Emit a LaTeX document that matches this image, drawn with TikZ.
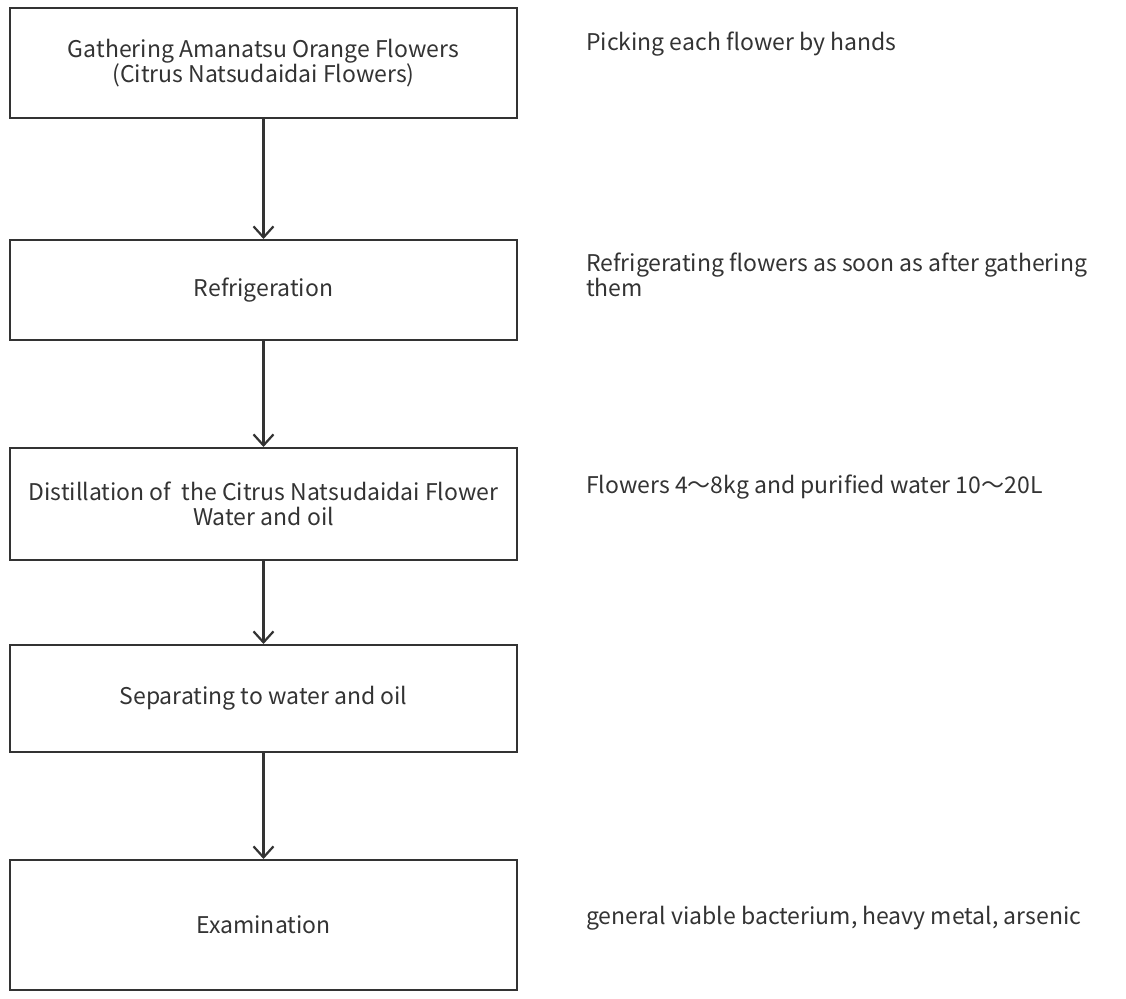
\documentclass[tikz,border=0pt]{standalone}
\usepackage{fontspec}
\setmainfont{Noto Sans CJK JP}
\usetikzlibrary{arrows.meta}
\definecolor{ink}{HTML}{333333}

\begin{document}
\begin{tikzpicture}[x=1pt,y=-1pt,
    stepbox/.style={draw=ink,line width=2pt,minimum width=507pt,text=ink,align=center,font=\fontsize{23}{25}\selectfont},
    note/.style={anchor=west,text=ink,align=left,font=\fontsize{23}{25}\selectfont,inner sep=0pt},
    flow/.style={draw=ink,line width=2.2pt,-{Straight Barb[length=11pt,width=20pt,line width=2.2pt]}}]
  \useasboundingbox (0,0) rectangle (1126,998);
  % process steps
  \node[stepbox,minimum height=110pt] (gather) at (263.5,63) {Gathering Amanatsu Orange Flowers\\(Citrus Natsudaidai Flowers)};
  \node[stepbox,minimum height=100pt] (refrig) at (263.5,290) {Refrigeration};
  \node[stepbox,minimum height=112pt] (distill) at (263.5,504) {Distillation of \ the Citrus Natsudaidai Flower\\Water and oil};
  \node[stepbox,minimum height=107pt] (separate) at (263.5,698.5) {Separating to water and oil};
  \node[stepbox,minimum height=130pt] (exam) at (263.5,925) {Examination};
  % notes on the right
  \node[note] (gatherNote) at (586,44) {Picking each flower by hands};
  \node[note] (refrigNote) at (586,275) {Refrigerating flowers as soon as after gathering\\them};
  \node[note] (distillNote) at (586,487) {Flowers 4～8kg and purified water 10～20L};
  \node[note] (examNote) at (586,918) {general viable bacterium, heavy metal, arsenic};
  % arrows
  \draw[flow] (gather) -- (refrig);
  \draw[flow] (refrig) -- (distill);
  \draw[flow] (distill) -- (separate);
  \draw[flow] (separate) -- (exam);
\end{tikzpicture}
\end{document}
